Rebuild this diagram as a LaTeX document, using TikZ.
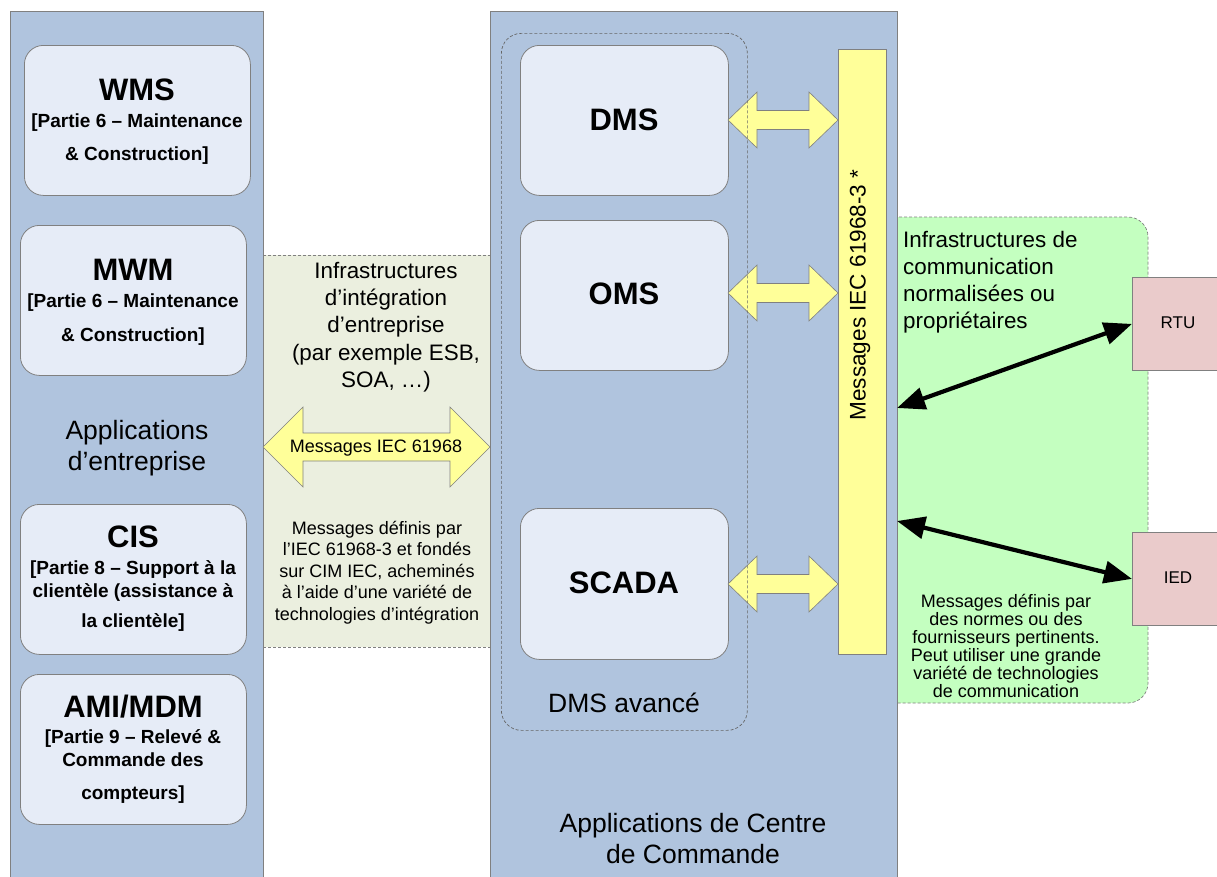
\documentclass[tikz,border=0pt]{standalone}
\usepackage{fontspec}
\setmainfont{Liberation Sans}
\usetikzlibrary{arrows.meta}

\definecolor{panelblue}{HTML}{B0C4DE}
\definecolor{boxfill}{HTML}{E6ECF7}
\definecolor{edgegray}{HTML}{808080}
\definecolor{intbeige}{HTML}{EBEFDF}
\definecolor{msgyellow}{HTML}{FFFF99}
\definecolor{commgreen}{HTML}{C4FFC0}
\definecolor{devpink}{HTML}{EACBCB}

\newcommand\fs[2]{\fontsize{#1}{#2}\selectfont}
% hollow double block arrow: left x, right x, centre y, half body, half head, head length
\newcommand\blockarrow[6]{%
  \draw[blockarr] (#1,#3) -- ({#1+#6},{#3-#5}) -- ({#1+#6},{#3-#4})
    -- ({#2-#6},{#3-#4}) -- ({#2-#6},{#3-#5}) -- (#2,#3)
    -- ({#2-#6},{#3+#5}) -- ({#2-#6},{#3+#4}) -- ({#1+#6},{#3+#4})
    -- ({#1+#6},{#3+#5}) -- cycle;}

\begin{document}
\begin{tikzpicture}[x=1pt,y=-1pt,
  panel/.style={fill=panelblue,draw=edgegray,line width=0.8pt,anchor=north west,inner sep=0pt},
  appbox/.style={fill=boxfill,draw=edgegray,line width=0.8pt,rounded corners=19pt,anchor=north west,inner sep=0pt},
  groupbox/.style={draw=black!60,line width=0.7pt,dash pattern=on 3pt off 2pt,rounded corners=20pt,anchor=north west,inner sep=0pt},
  blockarr/.style={fill=msgyellow,draw=edgegray,line width=0.6pt,line join=miter},
  devbox/.style={fill=devpink,draw=edgegray,line width=0.8pt,anchor=north west,inner sep=0pt},
  link/.style={line width=4.2pt,{Triangle[length=28pt,width=22pt]}-{Triangle[length=28pt,width=22pt]}},
  title/.style={font=\bfseries\fs{31}{37},anchor=base,inner sep=0pt},
  sub/.style={font=\bfseries\fs{19}{22},anchor=base,inner sep=0pt},
  big/.style={font=\fs{26.5}{31},anchor=base,inner sep=0pt},
  mid/.style={font=\fs{22.4}{27.3},anchor=base,inner sep=0pt},
  small/.style={font=\fs{18}{21.5},anchor=base,inner sep=0pt},
  note/.style={font=\fs{18}{18},anchor=base,inner sep=0pt},
]
\useasboundingbox (0,0) rectangle (1217,876);

% communication zone (right) and integration zone (middle)
\path[fill=commgreen,draw=edgegray,line width=0.7pt,dash pattern=on 3pt off 2pt,rounded corners=20pt]
  (860,217) rectangle (1148,703);
\fill[intbeige] (263,255) rectangle (490,647);
\draw[edgegray,line width=0.7pt,dash pattern=on 3pt off 2pt] (263,255) -- (490,255) (263,647) -- (490,647);

% main panels
\node[panel,minimum width=253pt,minimum height=880pt] (entPanel) at (10,11) {};
\node[panel,minimum width=407pt,minimum height=880pt] (ctrPanel) at (490,11) {};

% enterprise applications
\node[appbox,minimum width=226pt,minimum height=150pt] (wms) at (24,45) {};
\node[appbox,minimum width=226pt,minimum height=150pt] (mwm) at (20,225) {};
\node[appbox,minimum width=226pt,minimum height=150pt] (cis) at (20,504) {};
\node[appbox,minimum width=226pt,minimum height=150pt] (ami) at (20,674) {};

\node[title] (wmsT) at (137,100) {WMS};
\node[sub] (wmsA) at (137,127) {[Partie 6 – Maintenance};
\node[sub] (wmsB) at (137,160) {\& Construction]};
\node[title] (mwmT) at (133,280) {MWM};
\node[sub] (mwmA) at (133,307) {[Partie 6 – Maintenance};
\node[sub] (mwmB) at (133,341) {\& Construction]};
\node[title] (cisT) at (133,547) {CIS};
\node[sub] (cisA) at (133,574) {[Partie 8 – Support à la};
\node[sub] (cisB) at (133,597) {clientèle (assistance à};
\node[sub] (cisC) at (133,627) {la clientèle]};
\node[title] (amiT) at (133,717) {AMI/MDM};
\node[sub] (amiA) at (133,743) {[Partie 9 – Relevé \&};
\node[sub] (amiB) at (133,766) {Commande des};
\node[sub] (amiC) at (133,799) {compteurs]};

\node[big] (entL1) at (137,439) {Applications};
\node[big] (entL2) at (137,470) {d’entreprise};

% control centre applications
\node[appbox,minimum width=208pt,minimum height=150pt] (dms) at (520,45) {};
\node[appbox,minimum width=208pt,minimum height=150pt] (oms) at (520,220) {};
\node[appbox,minimum width=208pt,minimum height=151pt] (scada) at (520,508) {};
\node[title] (dmsT) at (624,130) {DMS};
\node[title] (omsT) at (624,304) {OMS};
\node[title] (scadaT) at (624,593) {SCADA};

% message bus
\node[fill=msgyellow,draw=edgegray,line width=0.7pt,anchor=north west,inner sep=0pt,
      minimum width=48pt,minimum height=605pt] (bus) at (838,49) {};
\node[rotate=90,font=\fs{22.6}{26},inner sep=0pt] (busT) at (860,295) {Messages IEC 61968-3 *};

% block arrows
\blockarrow{263}{490}{447}{14}{40}{40}
\blockarrow{728}{838}{120}{9.5}{28}{29}
\blockarrow{728}{838}{293}{9.5}{28}{29}
\blockarrow{728}{838}{584}{9.5}{28}{29}
\node[small] (ieclbl) at (376,452) {Messages IEC 61968};

% advanced DMS group
\node[groupbox,minimum width=246pt,minimum height=697pt] (adms) at (501,33) {};
\node[big] (admsT) at (624,712) {DMS avancé};

\node[big] (ctrL1) at (693,832) {Applications de Centre};
\node[big] (ctrL2) at (693,863) {de Commande};

% integration zone text
\node[mid] (intA) at (386,278) {Infrastructures};
\node[mid] (intB) at (386,305) {d’intégration};
\node[mid] (intC) at (386,332) {d’entreprise};
\node[mid] (intD) at (386,360) {(par exemple ESB,};
\node[mid] (intE) at (386,387) {SOA, …)};

\node[small] (defA) at (377,534) {Messages définis par};
\node[small] (defB) at (377,555.5) {l’IEC 61968-3 et fondés};
\node[small] (defC) at (377,577) {sur CIM IEC, acheminés};
\node[small] (defD) at (377,598.5) {à l’aide d’une variété de};
\node[small] (defE) at (377,620) {technologies d’intégration};

% communication zone text
\node[mid,anchor=base west] (comA) at (903,247) {Infrastructures de};
\node[mid,anchor=base west] (comB) at (903,274) {communication};
\node[mid,anchor=base west] (comC) at (903,301) {normalisées ou};
\node[mid,anchor=base west] (comD) at (903,328) {propriétaires};

\node[note] (nA) at (1006,607) {Messages définis par};
\node[note] (nB) at (1006,625) {des normes ou des};
\node[note] (nC) at (1006,643) {fournisseurs pertinents.};
\node[note] (nD) at (1006,661) {Peut utiliser une grande};
\node[note] (nE) at (1006,679) {variété de technologies};
\node[note] (nF) at (1006,697) {de communication};

% field devices
\node[devbox,minimum width=95pt,minimum height=93pt] (rtu) at (1132,277) {};
\node[devbox,minimum width=95pt,minimum height=93pt] (ied) at (1132,532) {};
\node[font=\fs{17}{20}] (rtuT) at (1178,323) {RTU};
\node[font=\fs{17}{20}] (iedT) at (1178,578) {IED};

\coordinate (rtuEnd) at (897,408);
\coordinate (iedEnd) at (897,521);
\draw[link] (rtuEnd) -- (rtu.west);
\draw[link] (iedEnd) -- (ied.west);
\end{tikzpicture}
\end{document}
